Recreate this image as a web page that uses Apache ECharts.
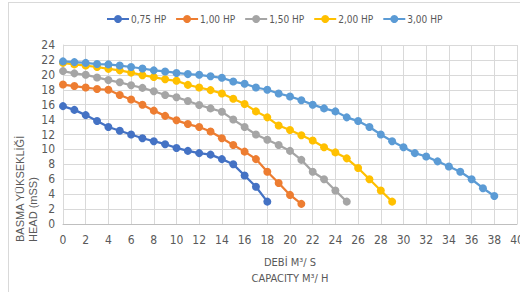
<!DOCTYPE html>
<html>
<head>
<meta charset="utf-8">
<script src="https://cdn.jsdelivr.net/npm/echarts@6/dist/echarts.min.js"></script>
<style>
  html, body { margin: 0; padding: 0; background: #fff; }
  #wrap { position: relative; width: 520px; height: 292px; overflow: hidden; }
  #chart { width: 520px; height: 292px; }
  #frame { position: absolute; left: 8px; top: 2px; width: 600px; height: 400px; border: 1px solid #d9d9d9; pointer-events: none; }
</style>
</head>
<body>
<div id="wrap">
  <div id="chart"></div>
  <div id="frame"></div>
</div>
<script>
// 数据: 每条曲线的扬程 (x = 0,1,2,... m³/s)
const names = ["0,75 HP", "1,00 HP", "1,50 HP", "2,00 HP", "3,00 HP"];
const colors = ["#4472C4", "#ED7D31", "#A5A5A5", "#FFC000", "#5B9BD5"];
const hp075 = [15.8, 15.3, 14.6, 13.8, 13.0, 12.5, 12.0, 11.5, 11.1, 10.7, 10.2, 9.8, 9.5, 9.3, 8.7, 8.0, 6.5, 5.0, 3.0];
const hp100 = [18.7, 18.5, 18.3, 18.1, 18.0, 17.3, 16.7, 16.0, 15.2, 14.5, 13.9, 13.4, 13.0, 12.4, 11.5, 10.6, 9.7, 8.7, 7.0, 5.5, 3.9, 2.7];
const hp150 = [20.5, 20.2, 20.0, 19.65, 19.3, 19.0, 18.6, 18.25, 17.8, 17.3, 17.0, 16.5, 15.95, 15.5, 15.05, 14.0, 13.0, 12.0, 11.3, 10.6, 9.8, 8.6, 7.0, 6.0, 4.5, 3.0];
const hp200 = [21.6, 21.4, 21.25, 21.05, 20.8, 20.6, 20.3, 19.95, 19.7, 19.4, 19.2, 18.65, 18.3, 17.95, 17.5, 16.8, 16.1, 15.1, 14.3, 13.2, 12.6, 11.9, 11.2, 10.3, 9.6, 8.8, 7.5, 6.0, 4.5, 3.0];
const hp300 = [21.8, 21.7, 21.6, 21.45, 21.4, 21.25, 21.05, 20.85, 20.6, 20.45, 20.25, 20.1, 20.0, 19.8, 19.6, 19.1, 18.8, 18.3, 18.0, 17.5, 17.1, 16.6, 16.0, 15.5, 15.1, 14.3, 13.8, 13.0, 12.0, 11.1, 10.3, 9.5, 9.05, 8.4, 7.7, 7.0, 6.0, 4.8, 3.75];
const allSeries = [hp075, hp100, hp150, hp200, hp300];

const narrow = "'Liberation Sans Narrow', 'DejaVu Sans Condensed', sans-serif";
const txt = "#595959";
const gridColor = "#d9d9d9";

const myChart = echarts.init(document.querySelector("#chart"), null, { renderer: "svg" });
const option = {
  animation: false,
  color: colors,
  graphic: [
    {
      type: "text",
      left: 13, top: 135,
      rotation: Math.PI / 2,
      style: {
        text: "BASMA YÜKSEKLİĞİ\nHEAD (mSS)",
        fill: txt, font: "11px 'Liberation Sans', Arial, sans-serif",
        align: "center", verticalAlign: "middle", lineHeight: 13,
      },
    },
  ],
  legend: {
    top: 9,
    left: 101,
    itemWidth: 22,
    itemHeight: 10,
    itemGap: 9,
    textStyle: { color: txt, fontSize: 10, fontFamily: narrow, padding: [0, 0, 0, -3] },
    data: names,
  },
  grid: { left: 63, right: 3, top: 45, bottom: 68, outerBoundsMode: "none" },
  xAxis: {
    type: "value",
    min: 0, max: 40, interval: 2,
    name: "DEBİ M³/ S\nCAPACITY M³/ H",
    nameLocation: "middle",
    nameGap: 30,
    nameTextStyle: { color: txt, fontSize: 11, fontFamily: narrow, lineHeight: 16, align: "center" },
    axisLine: { lineStyle: { color: "#bfbfbf" } },
    axisTick: { show: false },
    axisLabel: { color: txt, fontSize: 12, fontFamily: narrow, margin: 10 },
    splitLine: { lineStyle: { color: gridColor } },
  },
  yAxis: {
    type: "value",
    min: 0, max: 24, interval: 2,
    axisLine: { show: true, lineStyle: { color: gridColor } },
    axisTick: { show: false },
    axisLabel: { color: txt, fontSize: 12, fontFamily: narrow, margin: 8 },
    splitLine: { lineStyle: { color: gridColor } },
  },
  series: allSeries.map((vals, i) => ({
    name: names[i],
    type: "line",
    data: vals.map((v, x) => [x, v]),
    symbol: "circle",
    symbolSize: 8,
    smooth: false,
    lineStyle: { width: 2.25, color: colors[i] },
    itemStyle: { color: colors[i] },
  })),
};
myChart.setOption(option);
</script>
</body>
</html>
